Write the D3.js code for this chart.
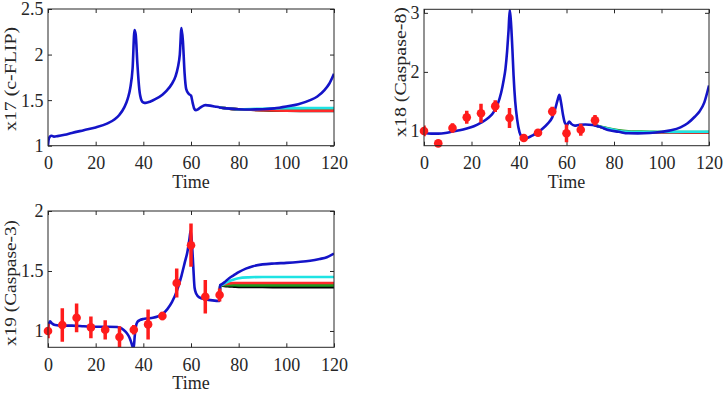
<!DOCTYPE html>
<html>
<head>
<meta charset="utf-8">
<script src="https://cdn.jsdelivr.net/npm/d3@7"></script>
<style>
  body { margin: 0; background: #fff; }
  svg text { font-family: "Liberation Serif", "Times New Roman", serif; fill: #262626; }
</style>
</head>
<body>
<svg id="chart" width="726" height="396"></svg>
<script>
// ---- x17 (c-FLIP) ----
var flipTime = [0, 0.3, 0.8, 1.5, 2.5, 4, 7, 10, 15, 20, 25, 28, 30, 32, 33.5, 34.5, 35.5, 36.3, 36.8, 37.5,
  38.3, 39.2, 40, 41, 43, 45, 48, 50, 52, 53.5, 54.5, 55.3, 56, 56.6, 57.3, 58, 59, 60, 60.7, 61.3,
  62, 63, 64.5, 66, 68, 70, 72, 75, 80, 85, 90, 95, 100, 105, 110, 113, 116, 118, 120];
var flipBlue = [1.0, 1.07, 1.10, 1.11, 1.10, 1.105, 1.12, 1.14, 1.17, 1.20, 1.245, 1.29, 1.34, 1.42, 1.52, 1.63, 1.85, 2.27, 2.22, 1.9,
  1.62, 1.5, 1.475, 1.47, 1.485, 1.51, 1.56, 1.61, 1.68, 1.76, 1.86, 2.0, 2.29, 2.15, 1.8, 1.62, 1.57, 1.55, 1.47, 1.41,
  1.39, 1.40, 1.43, 1.445, 1.44, 1.43, 1.42, 1.41, 1.40, 1.398, 1.40, 1.41, 1.43, 1.455, 1.50, 1.54, 1.61, 1.68, 1.79];
var flipTailTime = [72, 75, 80, 85, 90, 95, 100, 110, 120];
var flipCyan  = [1.42, 1.41, 1.40, 1.402, 1.406, 1.41, 1.412, 1.413, 1.413];
var flipRed   = [1.42, 1.41, 1.40, 1.395, 1.39, 1.387, 1.385, 1.383, 1.383];
var flipGreen = [1.42, 1.41, 1.40, 1.396, 1.392, 1.39, 1.388, 1.387, 1.387];
var flipBlack = [1.42, 1.41, 1.40, 1.394, 1.389, 1.385, 1.383, 1.381, 1.38];

// ---- x18 (Caspase-8) ----
var cas8Time = [0, 3, 6, 9, 12, 15, 18, 21, 24, 27, 29, 31, 32.5, 33.5, 34.3, 35, 35.6, 36.1, 36.6, 37.2,
  37.7, 38.4, 39.2, 40.2, 41.2, 42.5, 44, 46, 48, 50, 52, 54, 55.3, 56.3, 57, 57.7, 58.5, 59.3, 60.2, 61.1,
  62, 63.5, 65.5, 68, 71, 74, 78, 82, 86, 90, 95, 100, 104, 108, 111, 114, 116, 118, 120];
var cas8Blue = [0.965, 0.955, 0.955, 0.965, 0.99, 1.01, 1.04, 1.08, 1.14, 1.22, 1.30, 1.45, 1.65, 1.85, 2.05, 2.35, 2.7, 3.05, 2.85, 2.4,
  1.95, 1.5, 1.2, 0.98, 0.9, 0.876, 0.89, 0.93, 0.975, 1.04, 1.12, 1.23, 1.38, 1.53, 1.61, 1.48, 1.28, 1.14, 1.10, 1.16,
  1.12, 1.09, 1.105, 1.11, 1.10, 1.07, 1.01, 0.985, 0.96, 0.958, 0.965, 0.985, 1.01, 1.06, 1.13, 1.24, 1.33, 1.48, 1.77];
var cas8TailTime = [72, 75, 78, 82, 86, 90, 95, 100, 110, 120];
var cas8Cyan  = [1.095, 1.062, 1.035, 1.0, 0.985, 0.982, 0.982, 0.983, 0.985, 0.987];
var cas8Red   = [1.095, 1.06, 1.032, 0.995, 0.98, 0.977, 0.976, 0.976, 0.976, 0.976];
var cas8Green = [1.095, 1.065, 1.04, 1.01, 0.995, 0.99, 0.985, 0.983, 0.982, 0.982];
var cas8Black = [1.095, 1.06, 1.03, 0.993, 0.978, 0.975, 0.974, 0.974, 0.974, 0.974];

// ---- x19 (Caspase-3) ----
var cas3Time = [0, 0.4, 0.9, 1.6, 3, 6, 10, 15, 20, 25, 29, 31, 32.5, 33.5, 34.3, 35, 35.6, 36, 36.4, 36.9,
  37.5, 38.5, 40, 42, 44, 46, 48, 50, 52, 54, 56, 57.5, 58.5, 59.3, 59.9, 60.5, 61, 61.5, 62.2, 63.5,
  66, 69, 72, 72.2, 73, 74, 76, 78, 80, 83, 86, 90, 95, 100, 105, 110, 114, 117, 120];
var cas3Blue = [1.02, 1.06, 1.08, 1.065, 1.05, 1.045, 1.045, 1.04, 1.035, 1.035, 1.033, 1.02, 0.995, 0.97, 0.94, 0.90, 0.865, 0.87, 0.96, 1.04,
  1.075, 1.09, 1.10, 1.105, 1.11, 1.12, 1.14, 1.18, 1.24, 1.33, 1.46, 1.58, 1.66, 1.76, 1.84, 1.70, 1.52, 1.36, 1.31, 1.28,
  1.265, 1.255, 1.25, 1.38, 1.39, 1.405, 1.44, 1.465, 1.49, 1.52, 1.54, 1.555, 1.563, 1.568, 1.575, 1.585, 1.60, 1.615, 1.645];
var cas3TailTime = [72, 72.2, 73, 74, 76, 78, 80, 84, 90, 100, 110, 120];
var cas3Cyan  = [1.25, 1.38, 1.385, 1.395, 1.415, 1.43, 1.44, 1.447, 1.45, 1.45, 1.45, 1.45];
var cas3Red   = [1.25, 1.38, 1.385, 1.39, 1.397, 1.40, 1.40, 1.40, 1.40, 1.40, 1.40, 1.40];
var cas3Green = [1.25, 1.38, 1.381, 1.382, 1.382, 1.381, 1.38, 1.38, 1.38, 1.38, 1.38, 1.38];
var cas3Black = [1.25, 1.38, 1.378, 1.375, 1.372, 1.37, 1.368, 1.367, 1.366, 1.365, 1.365, 1.365];

// measured data (mean +/- error)
var obsTime = [0, 6, 12, 18, 24, 30, 36, 42, 48, 54, 60, 66, 72];
var cas8Obs = [1.0, 0.79, 1.05, 1.23, 1.30, 1.42, 1.22, 0.88, 0.97, 1.33, 0.96, 1.02, 1.18];
var cas8Err = [0.09, 0.03, 0.08, 0.11, 0.16, 0.1, 0.17, 0.04, 0.04, 0.08, 0.15, 0.1, 0.09];
var cas3Obs = [1.0, 1.05, 1.11, 1.03, 1.01, 0.95, 1.01, 1.055, 1.125, 1.40, 1.715, 1.285, 1.30];
var cas3Err = [0.06, 0.14, 0.12, 0.09, 0.08, 0.09, 0.04, 0.125, 0.035, 0.12, 0.18, 0.14, 0.055];

var timeTicks = [0, 20, 40, 60, 80, 100, 120];

var tailColors = ["#000000", "#1f9a1f", "#ff2a2a", "#1ee3e3"]; // black, green, red, cyan
var blueColor = "#1414c8";
var inkColor = "#262626";
var serif = '"Liberation Serif", "Times New Roman", serif';

var svg = d3.select("#chart");

var panels = [
  { id: "flip", label: "x17 (c-FLIP)", left: 48, right: 334, top: 9, bottom: 145.7,
    yDomain: [1, 2.5], yTicks: [1, 1.5, 2, 2.5], labelX: 15.5, labelY: 79, labelLen: 104,
    time: flipTime, blue: flipBlue, tailTime: flipTailTime,
    tails: [flipBlack, flipGreen, flipRed, flipCyan], obs: null, err: null },
  { id: "cas8", label: "x18 (Caspase-8)", left: 424, right: 709, top: 9.3, bottom: 145.7,
    yDomain: [0.75, 3.06], yTicks: [1, 2, 3], labelX: 405.5, labelY: 72, labelLen: 130,
    time: cas8Time, blue: cas8Blue, tailTime: cas8TailTime,
    tails: [cas8Black, cas8Green, cas8Red, cas8Cyan], obs: cas8Obs, err: cas8Err },
  { id: "cas3", label: "x19 (Caspase-3)", left: 48, right: 334, top: 211, bottom: 347.3,
    yDomain: [0.864, 2], yTicks: [1, 1.5, 2], labelX: 15.5, labelY: 283, labelLen: 126,
    time: cas3Time, blue: cas3Blue, tailTime: cas3TailTime,
    tails: [cas3Black, cas3Green, cas3Red, cas3Cyan], obs: cas3Obs, err: cas3Err }
];

panels.forEach(drawPanel);

function drawPanel(p) {
  var x = d3.scaleLinear().domain([0, 120]).range([p.left, p.right]);
  var y = d3.scaleLinear().domain(p.yDomain).range([p.bottom, p.top]);
  var fmt = d3.format("~g");

  svg.append("clipPath").attr("id", "clip-" + p.id)
    .append("rect")
    .attr("x", p.left).attr("y", p.top)
    .attr("width", p.right - p.left).attr("height", p.bottom - p.top);

  var g = svg.append("g").attr("class", "panel-" + p.id);

  // ticks point inward and are mirrored on top / right, matlab box style
  var axes = [
    ["x", d3.axisBottom(x).tickValues(timeTicks).tickFormat(fmt).tickSize(-4).tickPadding(11), "translate(0," + p.bottom + ")"],
    ["", d3.axisTop(x).tickValues(timeTicks).tickFormat("").tickSize(-4), "translate(0," + p.top + ")"],
    ["y", d3.axisLeft(y).tickValues(p.yTicks).tickFormat(fmt).tickSize(-4).tickPadding(4.5), "translate(" + p.left + ",0)"],
    ["", d3.axisRight(y).tickValues(p.yTicks).tickFormat("").tickSize(-4), "translate(" + p.right + ",0)"]
  ];
  axes.forEach(function(a) {
    var ax = g.append("g").attr("transform", a[2]).call(a[1]);
    ax.select(".domain").remove();
    ax.selectAll("line").attr("stroke", inkColor);
    ax.attr("font-family", serif).attr("font-size", null);
    ax.selectAll("text")
      .style("font-family", serif)
      .style("font-size", "18px")
      .attr("fill", inkColor);
    if (a[0] == "y") ax.selectAll("text").attr("dy", "0.33em");
  });

  var line = d3.line()
    .x(function(d) { return x(d[0]); })
    .y(function(d) { return y(d[1]); })
    .curve(d3.curveMonotoneX);

  var plot = g.append("g").attr("clip-path", "url(#clip-" + p.id + ")");

  p.tails.forEach(function(vals, k) {
    plot.append("path")
      .datum(d3.zip(p.tailTime, vals))
      .attr("d", line)
      .attr("fill", "none")
      .attr("stroke", tailColors[k])
      .attr("stroke-width", 2.6);
  });

  plot.append("path")
    .datum(d3.zip(p.time, p.blue))
    .attr("d", line)
    .attr("fill", "none")
    .attr("stroke", blueColor)
    .attr("stroke-width", 2.6)
    .attr("stroke-linejoin", "round");

  if (p.obs) {
    var pts = d3.zip(obsTime, p.obs, p.err);
    plot.selectAll(".bar").data(pts).enter().append("line")
      .attr("class", "bar")
      .attr("x1", function(d) { return x(d[0]); })
      .attr("x2", function(d) { return x(d[0]); })
      .attr("y1", function(d) { return y(d[1] - d[2]); })
      .attr("y2", function(d) { return y(d[1] + d[2]); })
      .attr("stroke", "#ff1c1c")
      .attr("stroke-width", 3.5);
    g.selectAll(".dot").data(pts).enter().append("circle")
      .attr("class", "dot")
      .attr("cx", function(d) { return x(d[0]); })
      .attr("cy", function(d) { return y(d[1]); })
      .attr("r", 4.3)
      .attr("fill", "#ff1c1c");
  }

  // box
  g.append("rect")
    .attr("x", p.left).attr("y", p.top)
    .attr("width", p.right - p.left).attr("height", p.bottom - p.top)
    .attr("fill", "none")
    .attr("stroke", inkColor)
    .attr("stroke-width", 1);

  g.append("text")
    .attr("x", (p.left + p.right) / 2)
    .attr("y", p.bottom + 42)
    .attr("text-anchor", "middle")
    .style("font-size", "18px")
    .text("Time");

  g.append("text")
    .attr("transform", "translate(" + p.labelX + "," + p.labelY + ") rotate(-90)")
    .attr("text-anchor", "middle")
    .attr("textLength", p.labelLen)
    .attr("lengthAdjust", "spacingAndGlyphs")
    .style("font-size", "16px")
    .text(p.label);
}
</script>
</body>
</html>
